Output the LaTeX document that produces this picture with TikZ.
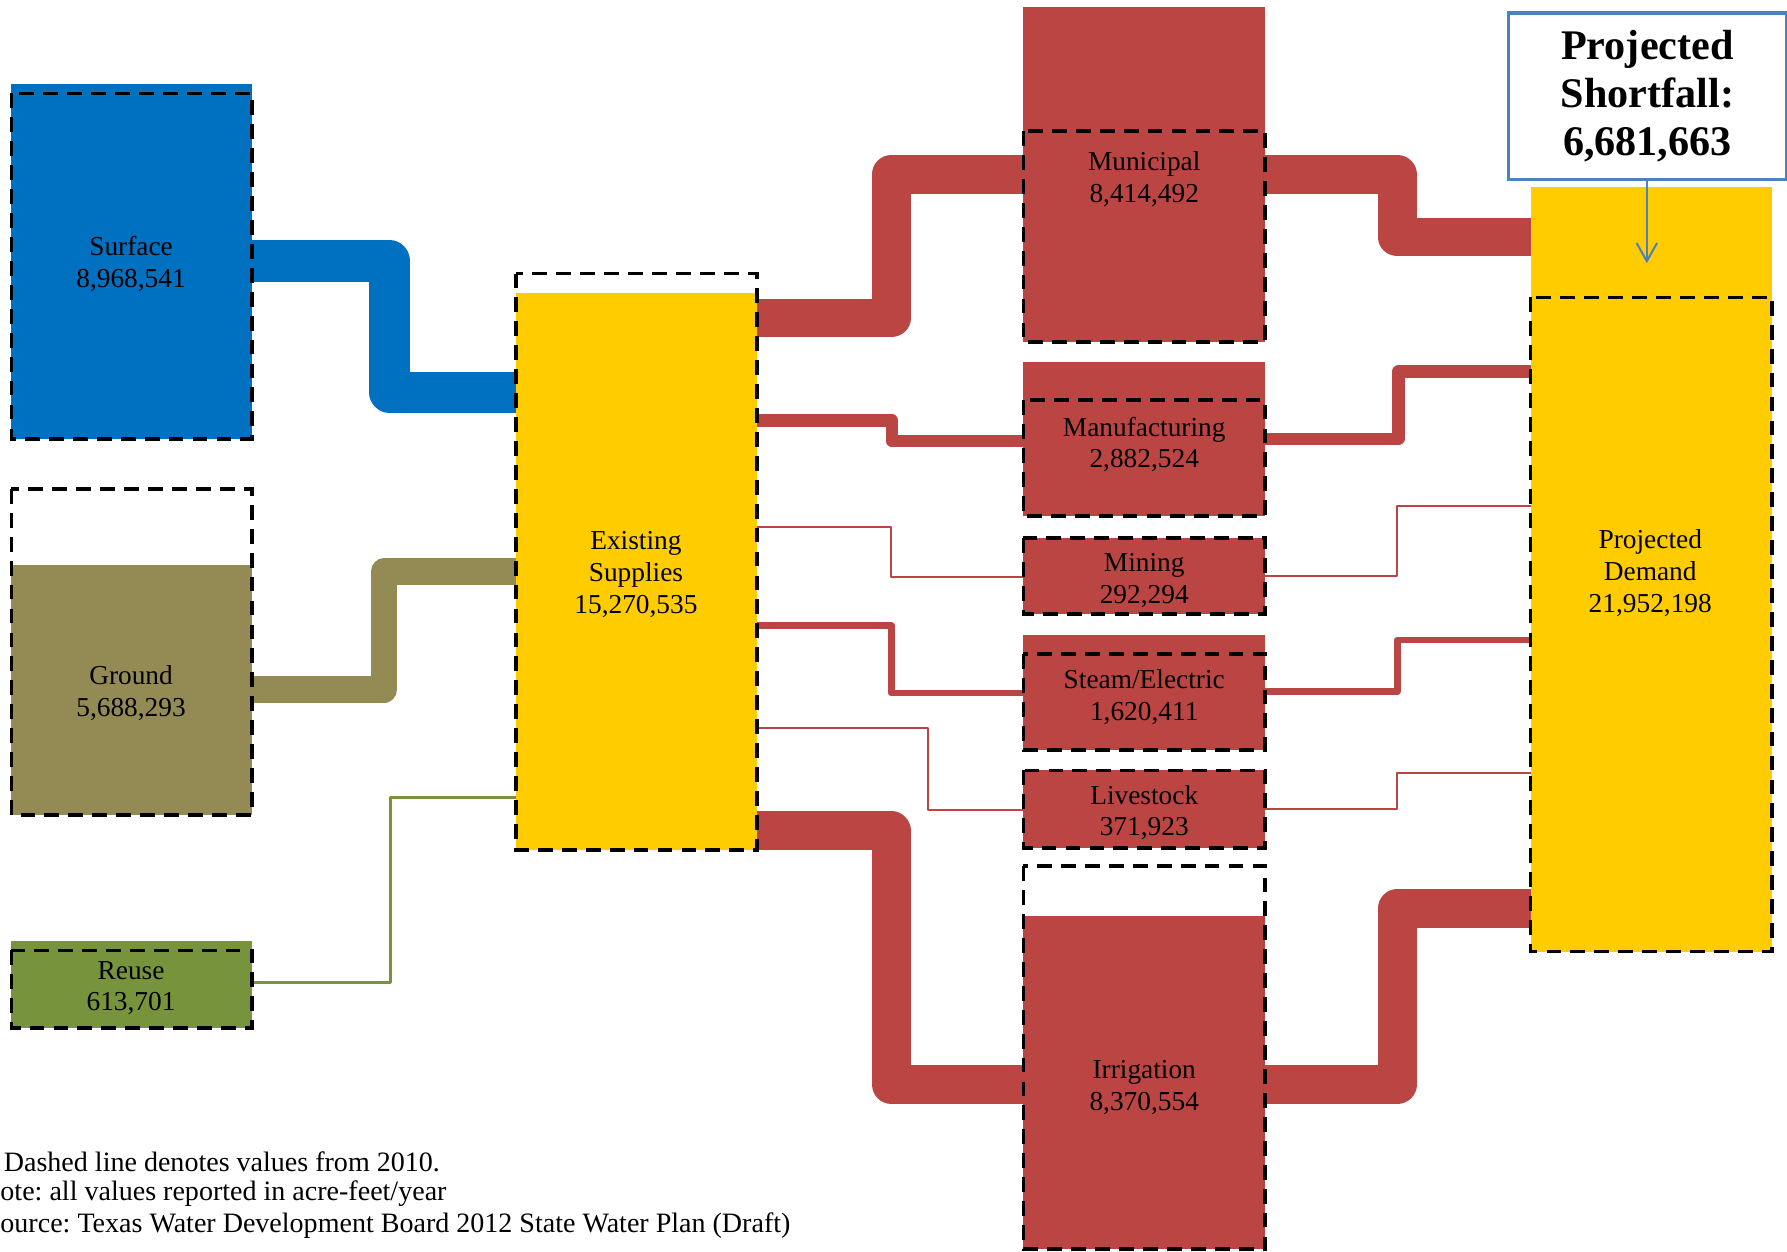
\documentclass[tikz,border=0pt]{standalone}
\usepackage{fontspec}
\setmainfont{Liberation Serif}
\usetikzlibrary{arrows.meta}
\definecolor{cblue}{HTML}{0070C0}
\definecolor{colive}{HTML}{948A54}
\definecolor{cgreen}{HTML}{77933C}
\definecolor{cyel}{HTML}{FFCC00}
\definecolor{cred}{HTML}{BA4542}
\definecolor{sblue}{HTML}{4F81BD}
\newcommand\wbox[6]{\node[#2, minimum width={(#5-#3)*0.5pt}, minimum height={(#6-#4)*0.5pt}] (#1) at (#3,#4) {};}
\tikzset{
  fillbox/.style={fill=#1, draw=none, inner sep=0pt, outer sep=0pt, anchor=north west},
  dashbox/.style={draw=none, inner sep=0pt, outer sep=0pt, anchor=north west},
  dashline/.style={draw=black, dash pattern=on 6.5pt off 4pt, line width=1.6pt},
  flow/.style={draw=#1, line join=round, line cap=butt},
  lbl/.style={align=center, inner sep=0pt, font=\fontsize{12}{14}\selectfont},
  note/.style={anchor=west, inner sep=0pt, font=\fontsize{12.3}{14}\selectfont},
}
\frenchspacing
\begin{document}
\frenchspacing
\begin{tikzpicture}[x=0.5pt,y=-0.5pt]
\clip (0,0) rectangle (1568,1098);
\fill[white] (0,0) rectangle (1568,1098);
% fills
\wbox{surfF}{fillbox=cblue}{10}{74}{221}{385}
\wbox{grF}{fillbox=colive}{10}{496}{221}{715}
\wbox{ruF}{fillbox=cgreen}{10}{826}{221}{902}
\wbox{exF}{fillbox=cyel}{453}{257}{664}{746}
\wbox{muF}{fillbox=cred}{898}{6}{1110}{300}
\wbox{maF}{fillbox=cred}{898}{318}{1110}{453}
\wbox{miF}{fillbox=cred}{898}{472}{1110}{539}
\wbox{stF}{fillbox=cred}{898}{557}{1110}{658}
\wbox{liF}{fillbox=cred}{898}{676}{1110}{744}
\wbox{irF}{fillbox=cred}{898}{804}{1110}{1096}
\wbox{prF}{fillbox=cyel}{1343}{164}{1555}{835}
% dashed (2010) boxes: nodes, outlines drawn later on top
\wbox{surfD}{dashbox}{10}{82}{221}{385}
\wbox{grD}{dashbox}{10}{429}{221}{715}
\wbox{ruD}{dashbox}{10}{834}{221}{902}
\wbox{exD}{dashbox}{453}{240}{664}{746}
\wbox{muD}{dashbox}{898}{115}{1110}{300}
\wbox{maD}{dashbox}{898}{351}{1110}{453}
\wbox{miD}{dashbox}{898}{472}{1110}{539}
\wbox{stD}{dashbox}{898}{574}{1110}{658}
\wbox{liD}{dashbox}{898}{676}{1110}{744}
\wbox{irD}{dashbox}{898}{760}{1110}{1096}
\wbox{prD}{dashbox}{1343}{261}{1555}{835}
% flows into existing supplies
\draw[flow=cblue, line width=18pt] (surfD.east |- 0,229) -| (342,344) -- (exD.west |- 0,344);
\draw[flow=colive, line width=11.5pt] (grD.east |- 0,605) -| (337,501.5) -- (exD.west |- 0,501.5);
\draw[flow=cgreen, line width=1.3pt] (ruD.east |- 0,862) -| (343,700) -- (exD.west |- 0,700);
% flows to sectors
\draw[flow=cred, line width=17pt] (exD.east |- 0,279) -| (782,153) -- (muD.west |- 0,153);
\draw[flow=cred, line width=5.5pt] (exD.east |- 0,369) -| (782.5,387) -- (maD.west |- 0,387);
\draw[flow=cred, line width=0.9pt] (exD.east |- 0,462) -| (782,506) -- (miD.west |- 0,506);
\draw[flow=cred, line width=3pt] (exD.east |- 0,549) -| (782,608) -- (stD.west |- 0,608);
\draw[flow=cred, line width=0.9pt] (exD.east |- 0,639) -| (814,711) -- (liD.west |- 0,711);
\draw[flow=cred, line width=17pt] (exD.east |- 0,729) -| (782,951.5) -- (irD.west |- 0,951.5);
% flows to projected demand
\draw[flow=cred, line width=17pt] (muD.east |- 0,153) -| (1226,208) -- (prD.west |- 0,208);
\draw[flow=cred, line width=5.5pt] (maD.east |- 0,385) -| (1227,326) -- (prD.west |- 0,326);
\draw[flow=cred, line width=0.9pt] (miD.east |- 0,505) -| (1226,444) -- (prD.west |- 0,444);
\draw[flow=cred, line width=3pt] (stD.east |- 0,607) -| (1226,561.5) -- (prD.west |- 0,561.5);
\draw[flow=cred, line width=0.9pt] (liD.east |- 0,710) -| (1226,678) -- (prD.west |- 0,678);
\draw[flow=cred, line width=17pt] (irD.east |- 0,951.5) -| (1226,797) -- (prD.west |- 0,797);
% dashed outlines on top of flows
\foreach \b in {surfD,grD,ruD,exD,muD,maD,miD,stD,liD,irD,prD}{
  \draw[dashline] (\b.north west) rectangle (\b.south east);
}
% labels
\node[lbl] (surfL) at (115,232) {Surface\\8,968,541};
\node[lbl] (grL) at (115,608) {Ground\\5,688,293};
\node[lbl] (ruL) at (115,867) {Reuse\\613,701};
\node[lbl] (exL) at (558,504) {Existing\\Supplies\\15,270,535};
\node[lbl] (muL) at (1004,157) {Municipal\\8,414,492};
\node[lbl] (maL) at (1004,390) {Manufacturing\\2,882,524};
\node[lbl] (miL) at (1004,509) {Mining\\292,294};
\node[lbl] (stL) at (1004,611.5) {Steam/Electric\\1,620,411};
\node[lbl] (liL) at (1004,713) {Livestock\\371,923};
\node[lbl] (irL) at (1004,954.5) {Irrigation\\8,370,554};
\node[lbl] (prL) at (1448,503) {Projected\\Demand\\21,952,198};
% shortfall callout
\node[draw=sblue, line width=1.5pt, fill=white, anchor=north west, inner sep=0pt,
      minimum width=122pt, minimum height=73pt, align=center,
      font=\fontsize{18.5}{21}\selectfont\bfseries] (sf) at (1322,10) {Projected\\Shortfall:\\6,681,663};
\coordinate (sfend) at (1445,231);
\draw[sblue, line width=0.9pt, -{Straight Barb[length=8pt,width=9pt,line width=0.9pt]}] (sf.south -| sfend) -- (sfend);
% notes
\node[note] (n1) at (3,1019) {Dashed line denotes values from 2010.};
\node[note] (n2) at (0,1047) {ote: all values reported in acre-feet/year};
\node[note] (n3) at (0,1075) {ource: Texas Water Development Board 2012 State Water Plan (Draft)};
\end{tikzpicture}
\end{document}
